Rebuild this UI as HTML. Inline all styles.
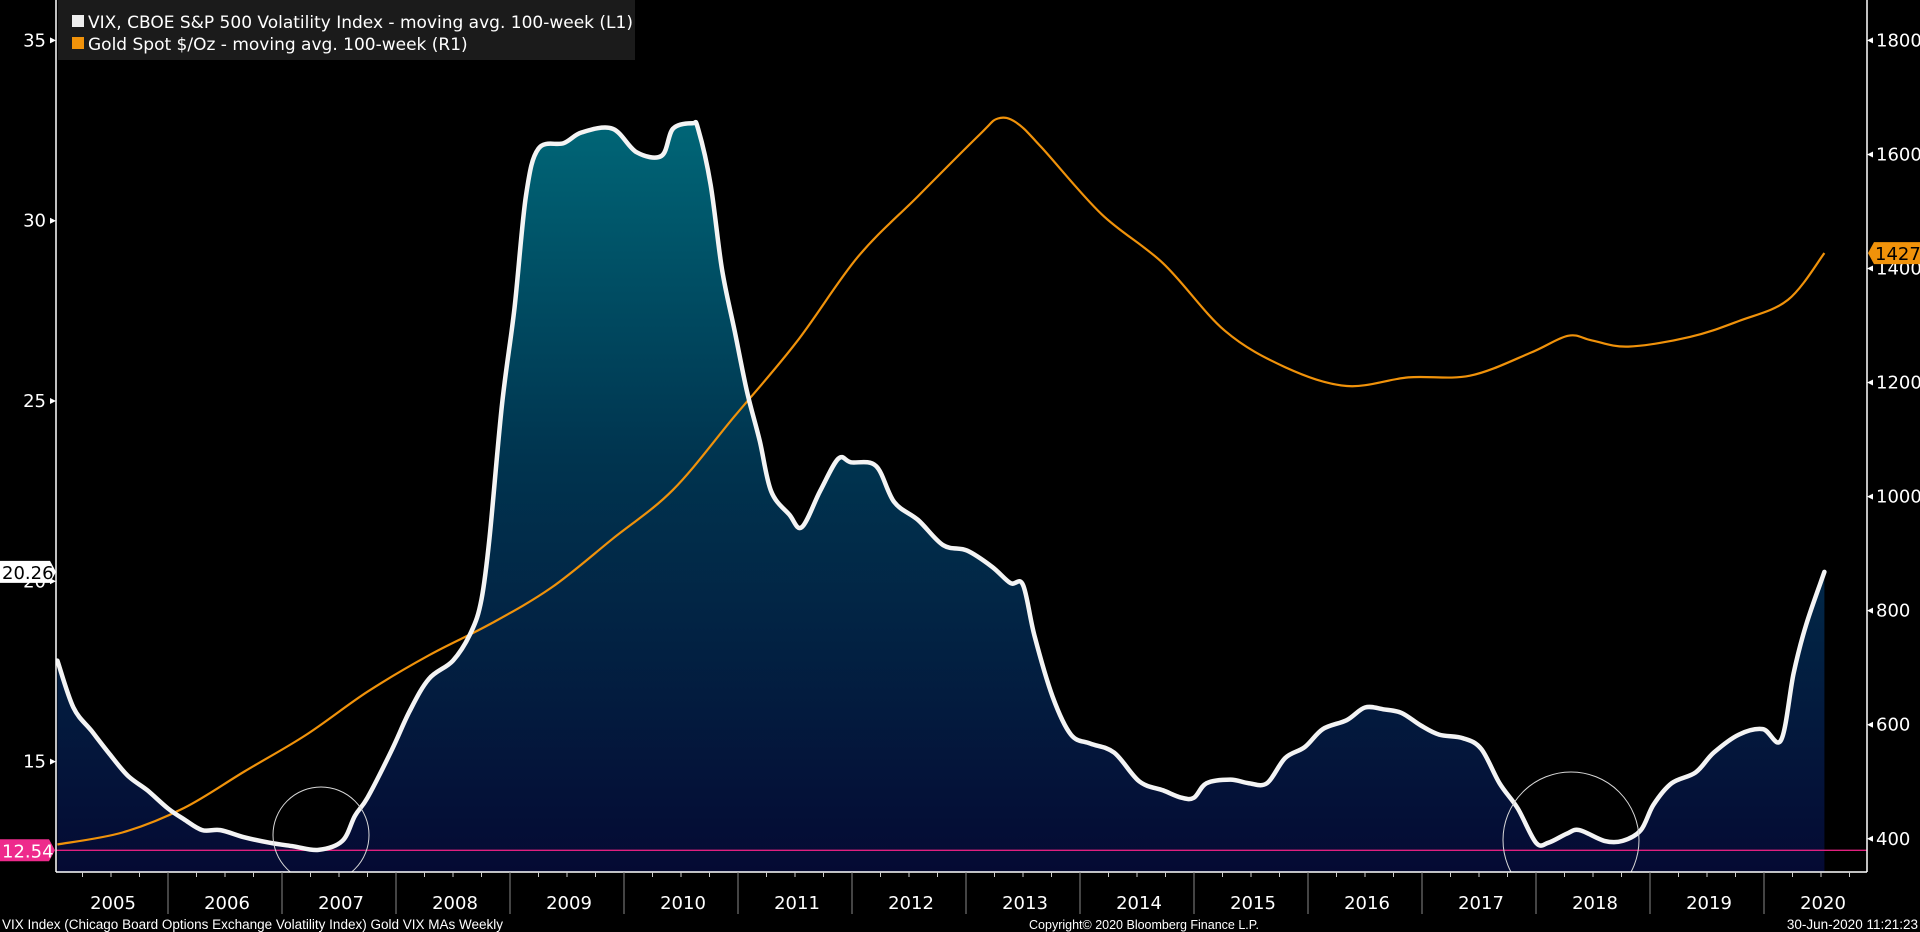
<!DOCTYPE html>
<html><head><meta charset="utf-8"><style>
html,body{margin:0;padding:0;background:#000;width:1920px;height:932px;overflow:hidden;font-family:"Liberation Sans",sans-serif}
svg text{font-family:"DejaVu Sans","Liberation Sans",sans-serif}
svg text.ft{font-family:"Liberation Sans",sans-serif}
</style></head><body>
<svg id="c" width="1920" height="932" xmlns="http://www.w3.org/2000/svg">
<defs>
<linearGradient id="fillg" gradientUnits="userSpaceOnUse" x1="0" y1="120" x2="0" y2="872">
<stop offset="0" stop-color="#006677"/><stop offset="0.45" stop-color="#00344f"/><stop offset="1" stop-color="#050a33"/>
</linearGradient>
<clipPath id="plotclip"><rect x="56" y="0" width="1811" height="872"/></clipPath>
</defs>
<g id="plot" clip-path="url(#plotclip)"></g>
<g id="axes"></g>
</svg>
<script>
const vixYears=[2005.03,2005.17,2005.33,2005.49,2005.65,2005.82,2006.0,2006.14,2006.3,2006.46,2006.67,2006.89,2007.1,2007.32,2007.53,2007.64,2007.75,2007.96,2008.12,2008.29,2008.5,2008.66,2008.75,2008.82,2008.93,2009.04,2009.14,2009.25,2009.47,2009.63,2009.9,2010.11,2010.33,2010.43,2010.6,2010.65,2010.76,2010.86,2010.97,2011.08,2011.19,2011.29,2011.45,2011.56,2011.72,2011.88,2011.99,2012.21,2012.37,2012.58,2012.8,2013.01,2013.23,2013.39,2013.5,2013.6,2013.76,2013.92,2014.09,2014.3,2014.52,2014.73,2014.89,2015.0,2015.11,2015.32,2015.48,2015.64,2015.8,2015.97,2016.13,2016.34,2016.5,2016.66,2016.82,2016.99,2017.15,2017.36,2017.52,2017.68,2017.84,2018.0,2018.11,2018.27,2018.38,2018.6,2018.76,2018.92,2019.03,2019.19,2019.4,2019.56,2019.78,2019.99,2020.15,2020.26,2020.37,2020.53];
const vixValues=[17.8,16.5,15.85,15.2,14.6,14.2,13.7,13.4,13.1,13.1,12.9,12.75,12.65,12.55,12.8,13.5,14.0,15.3,16.4,17.3,17.8,18.6,19.5,21.2,24.9,27.6,30.7,32.0,32.15,32.45,32.55,31.9,31.8,32.55,32.7,32.55,31.0,28.65,26.95,25.25,23.9,22.5,21.85,21.5,22.5,23.4,23.3,23.2,22.2,21.7,21.0,20.85,20.4,19.95,19.9,18.5,16.8,15.75,15.5,15.25,14.45,14.2,14.0,14.0,14.4,14.5,14.4,14.4,15.1,15.4,15.9,16.15,16.5,16.45,16.35,16.0,15.75,15.65,15.35,14.4,13.7,12.75,12.75,13.0,13.1,12.8,12.8,13.1,13.8,14.4,14.7,15.25,15.75,15.9,15.6,17.45,18.8,20.26];
const goldYears=[2005.03,2005.6,2006.14,2006.67,2007.21,2007.75,2008.29,2008.82,2009.36,2009.9,2010.43,2010.97,2011.51,2012.05,2012.58,2013.12,2013.28,2013.44,2013.66,2014.19,2014.73,2015.27,2015.8,2016.34,2016.88,2017.42,2017.95,2018.28,2018.49,2018.81,2019.35,2019.78,2020.21,2020.53];
const goldValues=[390,411,454,518,582,658,722,776,840,926,1012,1141,1270,1420,1527,1635,1663,1656,1613,1495,1409,1291,1227,1194,1209,1212,1252,1282,1274,1263,1280,1308,1345,1427];
const leftTicks=[15,20,25,30,35];
const rightTicks=[400,600,800,1000,1200,1400,1600,1800];
const yearLabels=[2005,2006,2007,2008,2009,2010,2011,2012,2013,2014,2015,2016,2017,2018,2019,2020];
const vixLast=20.26, vixMin=12.54, goldLast=1427;

const NS="http://www.w3.org/2000/svg";
const X=t=>54+(t-2005)*114;
const YL=v=>761.6-(v-15)*36.06;
const YR=v=>838.8-(v-400)*0.5703;
const BOTTOM=872;
function mk(tag,attrs,parent){const e=document.createElementNS(NS,tag);for(const k in attrs)e.setAttribute(k,attrs[k]);parent.appendChild(e);return e;}
function smooth(pts){let s='M'+pts[0][0].toFixed(1)+' '+pts[0][1].toFixed(1);
 for(let i=0;i<pts.length-1;i++){const p0=pts[Math.max(0,i-1)],p1=pts[i],p2=pts[i+1],p3=pts[Math.min(pts.length-1,i+2)];
  const c1x=p1[0]+(p2[0]-p0[0])/6,c1y=p1[1]+(p2[1]-p0[1])/6,c2x=p2[0]-(p3[0]-p1[0])/6,c2y=p2[1]-(p3[1]-p1[1])/6;
  s+=`C${c1x.toFixed(1)} ${c1y.toFixed(1)} ${c2x.toFixed(1)} ${c2y.toFixed(1)} ${p2[0].toFixed(1)} ${p2[1].toFixed(1)}`;}
 return s;}
const plot=document.getElementById('plot'), axes=document.getElementById('axes'), svg=document.getElementById('c');

const vp=vixYears.map((t,i)=>[X(t),YL(vixValues[i])]);
const d=smooth(vp);
const area=mk('path',{d:d+'L'+X(vixYears[vixYears.length-1])+' '+BOTTOM+'L'+X(vixYears[0])+' '+BOTTOM+'Z',fill:'url(#fillg)'},plot);


const ml=mk('line',{x1:56,x2:1867,y1:YL(vixMin),y2:YL(vixMin),stroke:'#e0207f','stroke-width':1.3},plot);


const gp=goldYears.map((t,i)=>[X(t),YR(goldValues[i])]);
const gl=mk('path',{d:smooth(gp),fill:'none',stroke:'#f0920a','stroke-width':2.2,'stroke-linejoin':'round'},plot);


const vl=mk('path',{d:d,fill:'none',stroke:'#f4f4f4','stroke-width':4.5,'stroke-linejoin':'round','stroke-linecap':'round'},plot);


const c1=mk('circle',{cx:321,cy:835,r:48,fill:'none',stroke:'#d8d8d8','stroke-width':1},plot);


const c2=mk('circle',{cx:1571,cy:840,r:68,fill:'none',stroke:'#d8d8d8','stroke-width':1},plot);



mk('line',{x1:56,x2:56,y1:0,y2:BOTTOM,stroke:'#fff','stroke-width':1.5},axes);
mk('line',{x1:1867,x2:1867,y1:0,y2:BOTTOM,stroke:'#fff','stroke-width':1.5},axes);
mk('line',{x1:56,x2:1867,y1:BOTTOM,y2:BOTTOM,stroke:'#fff','stroke-width':1.5},axes);
leftTicks.forEach(v=>{const y=YL(v);
 mk('path',{d:`M56 ${y}l-6 -3v6z`,fill:'#fff'},axes);
 const t=mk('text',{x:46,y:y+6,'text-anchor':'end',fill:'#fff','font-size':18},axes);t.textContent=v;
 
 });
rightTicks.forEach(v=>{const y=YR(v);
 mk('path',{d:`M1867 ${y}l6 -3v6z`,fill:'#fff'},axes);
 const t=mk('text',{x:1876,y:y+6,fill:'#fff','font-size':18},axes);t.textContent=v;
 
 });
for(let q=2005;q<2021.25;q+=0.25){const x=X(q);if(x<57||x>1866)continue;
 if(Math.abs(q-Math.round(q))<0.01){mk('line',{x1:x,x2:x,y1:BOTTOM,y2:914,stroke:'#888','stroke-width':1},axes);}
 else mk('line',{x1:x,x2:x,y1:BOTTOM,y2:BOTTOM+5,stroke:'#ccc','stroke-width':1},axes);}
yearLabels.forEach(yr=>{const t=mk('text',{x:X(yr+0.5)+2,y:909,'text-anchor':'middle',fill:'#fff','font-size':18},axes);t.textContent=yr;
 
 });

function tag(x,y,w,text,bg,fg,dir,name){
 const gg=mk('g',{},axes);
 
 
 if(dir==='r') mk('path',{d:`M${x} ${y-11}h${w}l6 11l-6 11h-${w}z`,fill:bg},gg);
 else mk('path',{d:`M${x} ${y}l6 -11h${w}v22h-${w}z`,fill:bg},gg);
 const t=mk('text',{x:dir==='r'?x+2:x+7,y:y+7,fill:fg,'font-size':18},gg);t.textContent=text;}
tag(0,YL(vixLast),50,vixLast.toFixed(2),'#fff','#000','r','vix-last-value-label');
tag(0,YL(vixMin),49,vixMin.toFixed(2),'#ee2a8c','#fff','r','vix-min-value-label');
tag(1868,YR(goldLast),50,goldLast,'#f0920a','#000','l','gold-last-value-label');

const lg=mk('g',{},svg);


mk('rect',{x:58,y:0,width:577,height:60,fill:'#1b1b1b'},lg);
mk('rect',{x:72,y:15,width:12,height:12,fill:'#eee'},lg);
mk('rect',{x:72,y:37,width:12,height:12,fill:'#f0920a'},lg);
const t1=mk('text',{x:88,y:28,fill:'#fff','font-size':17},lg);t1.textContent='VIX, CBOE S&P 500 Volatility Index - moving avg. 100-week (L1)';


const t2=mk('text',{x:88,y:50,fill:'#fff','font-size':17},lg);t2.textContent='Gold Spot $/Oz - moving avg. 100-week (R1)';


const f1=mk('text',{x:2,y:929,fill:'#fff','font-size':13.5,'class':'ft'},svg);f1.textContent='VIX Index (Chicago Board Options Exchange Volatility Index) Gold VIX MAs  Weekly';


const f2=mk('text',{x:1144,y:929,'text-anchor':'middle',fill:'#fff','font-size':12.5,'class':'ft'},svg);f2.textContent='Copyright© 2020 Bloomberg Finance L.P.';


const f3=mk('text',{x:1918,y:929,'text-anchor':'end',fill:'#fff','font-size':13.5,'class':'ft'},svg);f3.textContent='30-Jun-2020 11:21:23';


</script>
</body></html>
